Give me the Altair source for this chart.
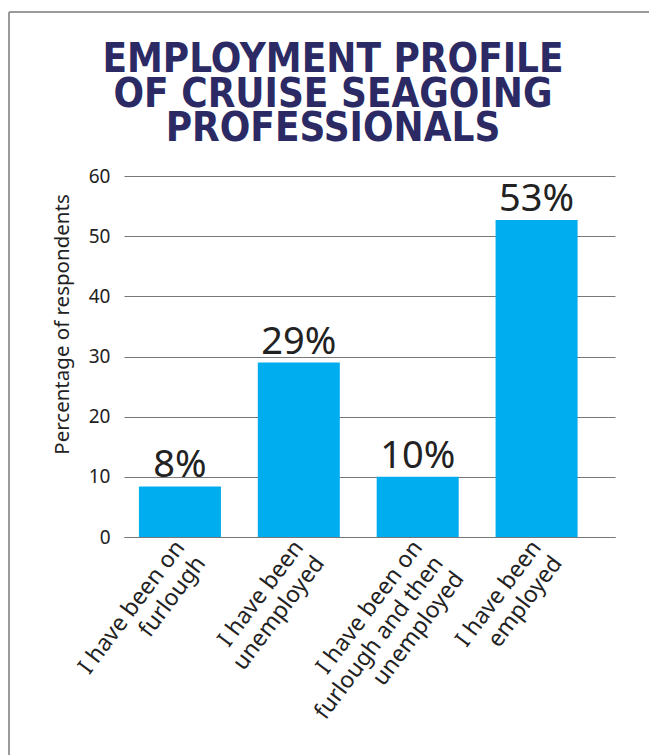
import altair as alt
import pandas as pd

categories = [
    "I have been on\nfurlough",
    "I have been\nunemployed",
    "I have been on\nfurlough and then\nunemployed",
    "I have been\nemployed",
]
values = [8.4, 29, 10, 52.7]
value_labels = ["8%", "29%", "10%", "53%"]
title_lines = ["EMPLOYMENT PROFILE", "OF CRUISE SEAGOING", "PROFESSIONALS"]
y_ticks = [0, 10, 20, 30, 40, 50, 60]

df = pd.DataFrame({"cat": categories, "val": values, "lab": value_labels})

FONT = "Noto Sans"

x_enc = alt.X(
    "cat:N",
    sort=None,
    scale=alt.Scale(paddingInner=0.31, paddingOuter=0.22, align=0.285),
    axis=alt.Axis(
        title=None,
        labelAngle=-53,
        labelFontSize=23,
        labelFont=FONT,
        labelColor="#222222",
        labelExpr="split(datum.label, '\\n')",
        labelLineHeight=26,
        ticks=False,
        domainColor="#777777",
        labelPadding=6,
        labelLimit=0,
    ),
)
y_enc = alt.Y(
    "val:Q",
    scale=alt.Scale(domain=[0, 60]),
    axis=alt.Axis(
        values=y_ticks,
        title="Percentage of respondents",
        domain=False,
        ticks=False,
        labelPadding=14,
        gridColor="#777777",
        labelFontSize=19,
        labelFont=FONT,
        labelColor="#222222",
        titleFontSize=20.5,
        titleFont=FONT,
        titleFontWeight="normal",
        titleColor="#222222",
        titleX=-62,
        titleY=148,
        titleAlign="center",
        titleBaseline="middle",
        titleAngle=-90,
    ),
)

base = alt.Chart(df)
bars = base.mark_bar(color="#00AEEF").encode(x=x_enc, y=y_enc)
texts = base.mark_text(
    font=FONT, fontSize=38, color="#222222", baseline="alphabetic", dy=-9
).encode(x=alt.X("cat:N", sort=None), y="val:Q", text="lab:N")

one = alt.Chart(pd.DataFrame({"k": [0]}))
left_border = one.mark_rule(color="#9a9a9a", strokeWidth=2).encode(
    x=alt.value(-115), y=alt.value(-164), y2=alt.value(579)
)
top_border = one.mark_rule(color="#9a9a9a", strokeWidth=2).encode(
    x=alt.value(-115), x2=alt.value(525), y=alt.value(-164)
)
title = one.mark_text(
    font="DejaVu Sans Condensed",
    fontSize=40,
    fontWeight="bold",
    color="#2B2A64",
    lineHeight=34.5,
    align="center",
    baseline="alphabetic",
).encode(x=alt.value(209), y=alt.value(-104), text=alt.value(title_lines))

chart = (
    alt.layer(bars, texts, left_border, top_border, title)
    .properties(
        width=491,
        height=361,
        autosize=alt.AutoSizeParams(type="none"),
        padding={"left": 124, "top": 176, "right": 34, "bottom": 218},
        background="white",
    )
    .configure_view(stroke=None)
)

chart.save("out.html", embed_options={"renderer": "svg", "actions": False})
